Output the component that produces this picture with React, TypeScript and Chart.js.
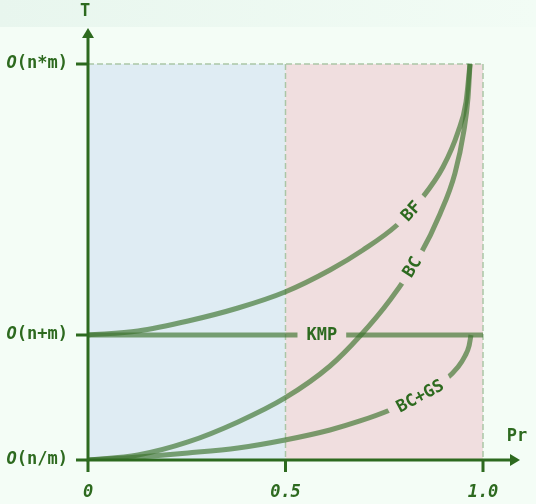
import React, { useEffect, useRef } from "react";
import { Chart, registerables } from "chart.js";

Chart.register(...registerables);

// ---- data ----
const xTickValues = [0, 0.5, 1.0];
const xTickLabels = ["0", "0.5", "1.0"];
const yTickValues = [0, 0.3157, 1];
const yTickLabels = ["O(n/m)", "O(n+m)", "O(n*m)"];

const regionEdges = [0, 0.5, 1.0];
const regionTop = 1;

const bfX = [0, 0.1266, 0.2532, 0.3797, 0.4987, 0.6127, 0.6962, 0.7823, 0.8456, 0.8987, 0.9367, 0.957, 0.9671];
const bfY = [0.3157, 0.3258, 0.351, 0.3838, 0.4242, 0.4798, 0.5303, 0.5934, 0.6616, 0.7399, 0.8283, 0.904, 1];

const bcX = [0, 0.1266, 0.2532, 0.3797, 0.4987, 0.6127, 0.6886, 0.7646, 0.8405, 0.8911, 0.9291, 0.9519, 0.962, 0.9671];
const bcY = [0, 0.0126, 0.0455, 0.096, 0.1566, 0.2374, 0.3131, 0.404, 0.5177, 0.6212, 0.7247, 0.8333, 0.9141, 1];

const kmpX = [0, 1];
const kmpY = [0.3157, 0.3157];

const bcgsX = [0, 0.1266, 0.2532, 0.3797, 0.4987, 0.6127, 0.6886, 0.7646, 0.8405, 0.9038, 0.9367, 0.9544, 0.9646, 0.9696];
const bcgsY = [0, 0.0076, 0.0177, 0.0303, 0.0505, 0.0758, 0.0985, 0.1263, 0.1616, 0.202, 0.2348, 0.2626, 0.2879, 0.3157];

const seriesNames = ["BF", "BC", "KMP", "BC+GS"];
const labelAtX = [0.8177, 0.8203, 0.592, 0.8405];
const labelAtY = [0.6288, 0.4874, 0.3157, 0.1616];
const labelAngles = [-47, -58, 0, -28];

// ---- styles ----
const BG = "#f4fdf6";
const BLUE = "#dfecf3";
const PINK = "#f0dedf";
const DARK = "#2d6a1f";
const LINE = "rgba(60,115,45,0.66)";
const DASH = "#abc6a6";
const FONT = '"DejaVu Sans Mono", monospace';

const toPts = (xs: number[], ys: number[]) => xs.map((x, i) => ({ x, y: ys[i] }));

const decorPlugin = {
  id: "decor",
  beforeDraw(chart: any) {
    const { ctx, width, height } = chart;
    const xs = chart.scales.x;
    const ys = chart.scales.y;
    ctx.save();
    ctx.fillStyle = BG;
    ctx.fillRect(0, 0, width, height);
    const g = ctx.createLinearGradient(0, 0, width, 0);
    g.addColorStop(0, "#e8f6ee");
    g.addColorStop(1, "#f2fcf5");
    ctx.fillStyle = g;
    ctx.fillRect(0, 0, width, 27);
    const yt = ys.getPixelForValue(regionTop);
    const yb = ys.getPixelForValue(0);
    const colors = [BLUE, PINK];
    for (let i = 0; i < regionEdges.length - 1; i++) {
      const a = xs.getPixelForValue(regionEdges[i]);
      const b = xs.getPixelForValue(regionEdges[i + 1]);
      ctx.fillStyle = colors[i];
      ctx.fillRect(a, yt, b - a, yb - yt);
    }
    ctx.strokeStyle = DASH;
    ctx.lineWidth = 1.5;
    ctx.setLineDash([6, 3]);
    ctx.beginPath();
    ctx.moveTo(xs.getPixelForValue(regionEdges[0]), yt);
    ctx.lineTo(xs.getPixelForValue(regionEdges[regionEdges.length - 1]), yt);
    for (let i = 1; i < regionEdges.length; i++) {
      const p = xs.getPixelForValue(regionEdges[i]);
      ctx.moveTo(p, yt);
      ctx.lineTo(p, yb);
    }
    ctx.stroke();
    ctx.restore();
  },
  afterDatasetsDraw(chart: any) {
    const { ctx, chartArea } = chart;
    const xs = chart.scales.x;
    const ys = chart.scales.y;
    ctx.save();
    // line labels with gaps
    ctx.font = `bold 17px ${FONT}`;
    ctx.textAlign = "center";
    ctx.textBaseline = "middle";
    seriesNames.forEach((name, i) => {
      const px = xs.getPixelForValue(labelAtX[i]);
      const py = ys.getPixelForValue(labelAtY[i]);
      const w = ctx.measureText(name).width;
      ctx.save();
      ctx.translate(px, py);
      ctx.rotate((labelAngles[i] * Math.PI) / 180);
      ctx.fillStyle = PINK;
      ctx.fillRect(-w / 2 - 9, -9, w + 18, 18);
      ctx.fillStyle = DARK;
      ctx.fillText(name, 0, 1);
      ctx.restore();
    });

    // axes
    const x0 = xs.getPixelForValue(0);
    const y0 = ys.getPixelForValue(0);
    ctx.strokeStyle = DARK;
    ctx.fillStyle = DARK;
    ctx.lineWidth = 3;
    ctx.setLineDash([]);
    ctx.beginPath();
    ctx.moveTo(x0, y0);
    ctx.lineTo(x0, chartArea.top + 8);
    ctx.moveTo(x0 - 1.5, y0);
    ctx.lineTo(chartArea.right - 8, y0);
    ctx.stroke();
    ctx.beginPath();
    ctx.moveTo(x0, chartArea.top);
    ctx.lineTo(x0 - 6, chartArea.top + 10);
    ctx.lineTo(x0 + 6, chartArea.top + 10);
    ctx.closePath();
    ctx.fill();
    ctx.beginPath();
    ctx.moveTo(chartArea.right, y0);
    ctx.lineTo(chartArea.right - 10, y0 - 6);
    ctx.lineTo(chartArea.right - 10, y0 + 6);
    ctx.closePath();
    ctx.fill();

    // ticks
    ctx.beginPath();
    yTickValues.forEach((v) => {
      const p = ys.getPixelForValue(v);
      ctx.moveTo(x0 - 12, p);
      ctx.lineTo(x0, p);
    });
    xTickValues.forEach((v) => {
      const p = xs.getPixelForValue(v);
      ctx.moveTo(p, y0);
      ctx.lineTo(p, y0 + 12);
    });
    ctx.stroke();

    // tick labels
    ctx.textBaseline = "middle";
    yTickLabels.forEach((lab, i) => {
      const p = ys.getPixelForValue(yTickValues[i]);
      const rest = lab.slice(1);
      ctx.font = `bold 17px ${FONT}`;
      ctx.textAlign = "right";
      const rx = x0 - 20;
      ctx.fillText(rest, rx, p);
      const rw = ctx.measureText(rest).width;
      ctx.font = `italic bold 17px ${FONT}`;
      ctx.fillText(lab[0], rx - rw, p);
    });
    ctx.font = `italic bold 17px ${FONT}`;
    ctx.textAlign = "center";
    ctx.textBaseline = "alphabetic";
    xTickLabels.forEach((lab, i) => {
      const p = xs.getPixelForValue(xTickValues[i]);
      ctx.fillText(lab, p, y0 + 37);
    });

    // axis titles
    ctx.font = `bold 17px ${FONT}`;
    ctx.fillText("T", x0 - 3, chartArea.top - 12);
    ctx.fillText("Pr", chartArea.right - 3, y0 - 19);
    ctx.restore();
  },
};

export default function App() {
  const ref = useRef<HTMLCanvasElement>(null);
  useEffect(() => {
    if (!ref.current) return;
    const ds = (label: string, xsArr: number[], ysArr: number[]) => ({
      label,
      data: toPts(xsArr, ysArr),
      borderColor: LINE,
      borderWidth: 5,
      pointRadius: 0,
      fill: false,
      cubicInterpolationMode: "monotone" as const,
    });
    const chart = new Chart(ref.current, {
      type: "line",
      data: {
        datasets: [
          ds(seriesNames[0], bfX, bfY),
          ds(seriesNames[1], bcX, bcY),
          ds(seriesNames[2], kmpX, kmpY),
          ds(seriesNames[3], bcgsX, bcgsY),
        ],
      },
      options: {
        responsive: false,
        maintainAspectRatio: false,
        animation: false,
        layout: { padding: { left: 88, right: 16, top: 28, bottom: 44 } },
        scales: {
          x: { type: "linear", display: false, min: 0, max: 432 / 395 },
          y: { type: "linear", display: false, min: 0, max: 432 / 396 },
        },
        plugins: { legend: { display: false }, tooltip: { enabled: false } },
      },
      plugins: [decorPlugin],
    });
    return () => chart.destroy();
  }, []);
  return (
    <div style={{ position: "fixed", left: 0, top: 0, width: 536, height: 504, background: BG }}>
      <canvas ref={ref} width={536} height={504} style={{ display: "block", width: 536, height: 504 }} />
    </div>
  );
}
